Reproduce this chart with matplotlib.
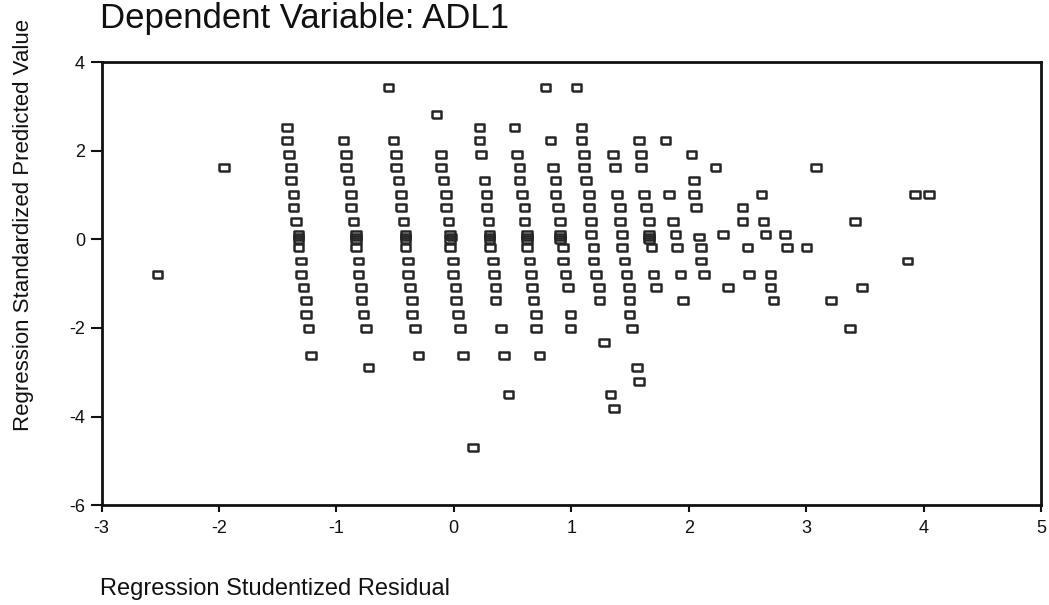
import matplotlib
matplotlib.use('Agg')
import matplotlib.pyplot as plt

plt.rcParams['font.family'] = ['Liberation Sans', 'DejaVu Sans']
plt.rcParams['axes.unicode_minus'] = False

# Regression Studentized Residual (x) and Standardized Predicted Value (y)
resid = [
    # band 1
    -1.42, -1.42, -1.405, -1.385, -1.385, -1.366, -1.366, -1.343, -1.323, -1.323, -1.323, -1.323,
    -1.303, -1.303, -1.28, -1.26, -1.26, -1.238, -1.218,
    # band 2
    -0.939, -0.916, -0.916, -0.896, -0.876, -0.876, -0.854, -0.831, -0.831, -0.831, -0.831,
    -0.811, -0.811, -0.789, -0.785, -0.769, -0.749, -0.726,
    # band 3
    -0.513, -0.49, -0.49, -0.47, -0.45, -0.45, -0.428, -0.413, -0.413, -0.413, -0.413,
    -0.391, -0.391, -0.371, -0.357, -0.357, -0.328, -0.30,
    # band 4
    -0.107, -0.107, -0.087, -0.067, -0.067, -0.044, -0.03, -0.02, -0.03, -0.03,
    -0.007, -0.007, 0.013, 0.021, 0.036, 0.055, 0.078,
    # band 5
    0.22, 0.22, 0.232, 0.26, 0.277, 0.277, 0.297, 0.305, 0.305, 0.305, 0.31,
    0.334, 0.34, 0.354, 0.354, 0.402, 0.425, 0.467,
    # band 6
    0.516, 0.539, 0.558, 0.558, 0.581, 0.601, 0.601, 0.624, 0.624, 0.624, 0.624,
    0.644, 0.658, 0.667, 0.68, 0.701, 0.701, 0.729,
    # band 7
    0.823, 0.846, 0.865, 0.865, 0.885, 0.902, 0.902, 0.902, 0.902, 0.931, 0.931,
    0.951, 0.97, 0.993, 0.993,
    # band 8
    1.087, 1.087, 1.107, 1.107, 1.127, 1.149, 1.149, 1.17, 1.17, 1.19, 1.19,
    1.212, 1.234, 1.24, 1.277,
    # band 9
    1.354, 1.371, 1.391, 1.414, 1.414, 1.434, 1.434, 1.454, 1.471, 1.491, 1.496, 1.496, 1.519,
    1.334, 1.362, 1.562, 1.576,
    # band 10
    1.576, 1.596, 1.596, 1.618, 1.638, 1.661, 1.661, 1.661, 1.661, 1.684, 1.70, 1.72,
    # band 11
    1.803, 1.831, 1.868, 1.888, 1.902, 1.931, 1.951,
    # band 12
    2.025, 2.045, 2.045, 2.065, 2.087, 2.107, 2.107, 2.13,
    # right tail
    2.229, 2.292, 2.334, 2.457, 2.457, 2.50, 2.513, 2.619, 2.636, 2.656, 2.698, 2.698, 2.721,
    2.82, 2.84, 3.005, 3.082, 3.21, 3.414, 3.474, 3.374, 3.863, 3.926, 4.048,
    # isolated points
    -2.525, -1.956, -0.556, -0.149, 0.78, 1.045, 0.163,
]

pred = [
    # band 1
    2.52, 2.22, 1.92, 1.62, 1.32, 1.02, 0.72, 0.41, 0.11, 0.05, 0.0, -0.19,
    -0.49, -0.79, -1.09, -1.39, -1.70, -2.02, -2.62,
    # band 2
    2.22, 1.92, 1.62, 1.32, 1.02, 0.72, 0.41, 0.11, 0.05, 0.0, -0.19,
    -0.49, -0.79, -1.09, -1.39, -1.70, -2.02, -2.90,
    # band 3
    2.22, 1.92, 1.62, 1.32, 1.02, 0.72, 0.41, 0.11, 0.05, 0.0, -0.19,
    -0.49, -0.79, -1.09, -1.39, -1.70, -2.02, -2.62,
    # band 4
    1.92, 1.62, 1.32, 1.02, 0.72, 0.41, 0.11, 0.05, 0.0, -0.19,
    -0.49, -0.79, -1.09, -1.39, -1.70, -2.02, -2.62,
    # band 5
    2.52, 2.22, 1.92, 1.32, 1.02, 0.72, 0.41, 0.11, 0.05, 0.0, -0.19,
    -0.49, -0.79, -1.09, -1.39, -2.02, -2.62, -3.51,
    # band 6
    2.52, 1.92, 1.62, 1.32, 1.02, 0.72, 0.41, 0.11, 0.05, 0.0, -0.19,
    -0.49, -0.79, -1.09, -1.39, -1.70, -2.02, -2.62,
    # band 7
    2.22, 1.62, 1.32, 1.02, 0.72, 0.41, 0.11, 0.05, 0.0, -0.19, -0.49,
    -0.79, -1.09, -1.70, -2.02,
    # band 8
    2.52, 2.22, 1.92, 1.62, 1.32, 1.02, 0.72, 0.41, 0.11, -0.19, -0.49,
    -0.79, -1.09, -1.39, -2.32,
    # band 9
    1.92, 1.62, 1.02, 0.72, 0.41, 0.11, -0.19, -0.49, -0.79, -1.09, -1.39, -1.70, -2.02,
    -3.51, -3.81, -2.90, -3.21,
    # band 10
    2.22, 1.92, 1.62, 1.02, 0.72, 0.41, 0.11, 0.05, 0.0, -0.19, -0.79, -1.09,
    # band 11
    2.22, 1.02, 0.41, 0.11, -0.19, -0.79, -1.39,
    # band 12
    1.92, 1.32, 1.02, 0.72, 0.05, -0.19, -0.49, -0.79,
    # right tail
    1.62, 0.11, -1.09, 0.72, 0.41, -0.19, -0.79, 1.02, 0.41, 0.11, -0.79, -1.09, -1.39,
    0.11, -0.19, -0.19, 1.62, -1.39, 0.41, -1.09, -2.02, -0.49, 1.02, 1.02,
    # isolated points
    -0.79, 1.62, 3.42, 2.82, 3.42, 3.42, -4.69,
]

x_ticks = [-3, -2, -1, 0, 1, 2, 3, 4, 5]
y_ticks = [-6, -4, -2, 0, 2, 4]

# hollow rectangle marker, a bit wider than tall
box = [(-1.4, -1), (1.4, -1), (1.4, 1), (-1.4, 1), (-1.4, -1)]

fig = plt.figure(figsize=(10.49, 6.05), dpi=100)
ax = fig.add_axes([0.0968, 0.165, 0.8955, 0.7325])

ax.scatter(resid, pred, marker=box, s=48, facecolors='none',
           edgecolors='#262626', linewidths=1.8, zorder=3)

ax.set_xlim(-3, 5)
ax.set_ylim(-6, 4)
ax.set_xticks(x_ticks)
ax.set_yticks(y_ticks)
ax.tick_params(direction='out', width=1.5, labelsize=13, colors='#111111')
ax.tick_params(axis='x', length=5, pad=6)
ax.tick_params(axis='y', length=8, pad=4)
for sp in ax.spines.values():
    sp.set_linewidth(2)
    sp.set_color('#111111')

fig.text(0.0955, 0.9537, 'Dependent Variable: ADL1', fontsize=25, ha='left', va='baseline', color='#111111')
fig.text(0.0955, 0.0165, 'Regression Studentized Residual', fontsize=17, ha='left', va='baseline', color='#111111')
fig.text(0.022, 0.628, 'Regression Standardized Predicted Value', fontsize=16, rotation=90,
         ha='center', va='center', color='#111111')

fig.savefig('out.png', dpi=100)
